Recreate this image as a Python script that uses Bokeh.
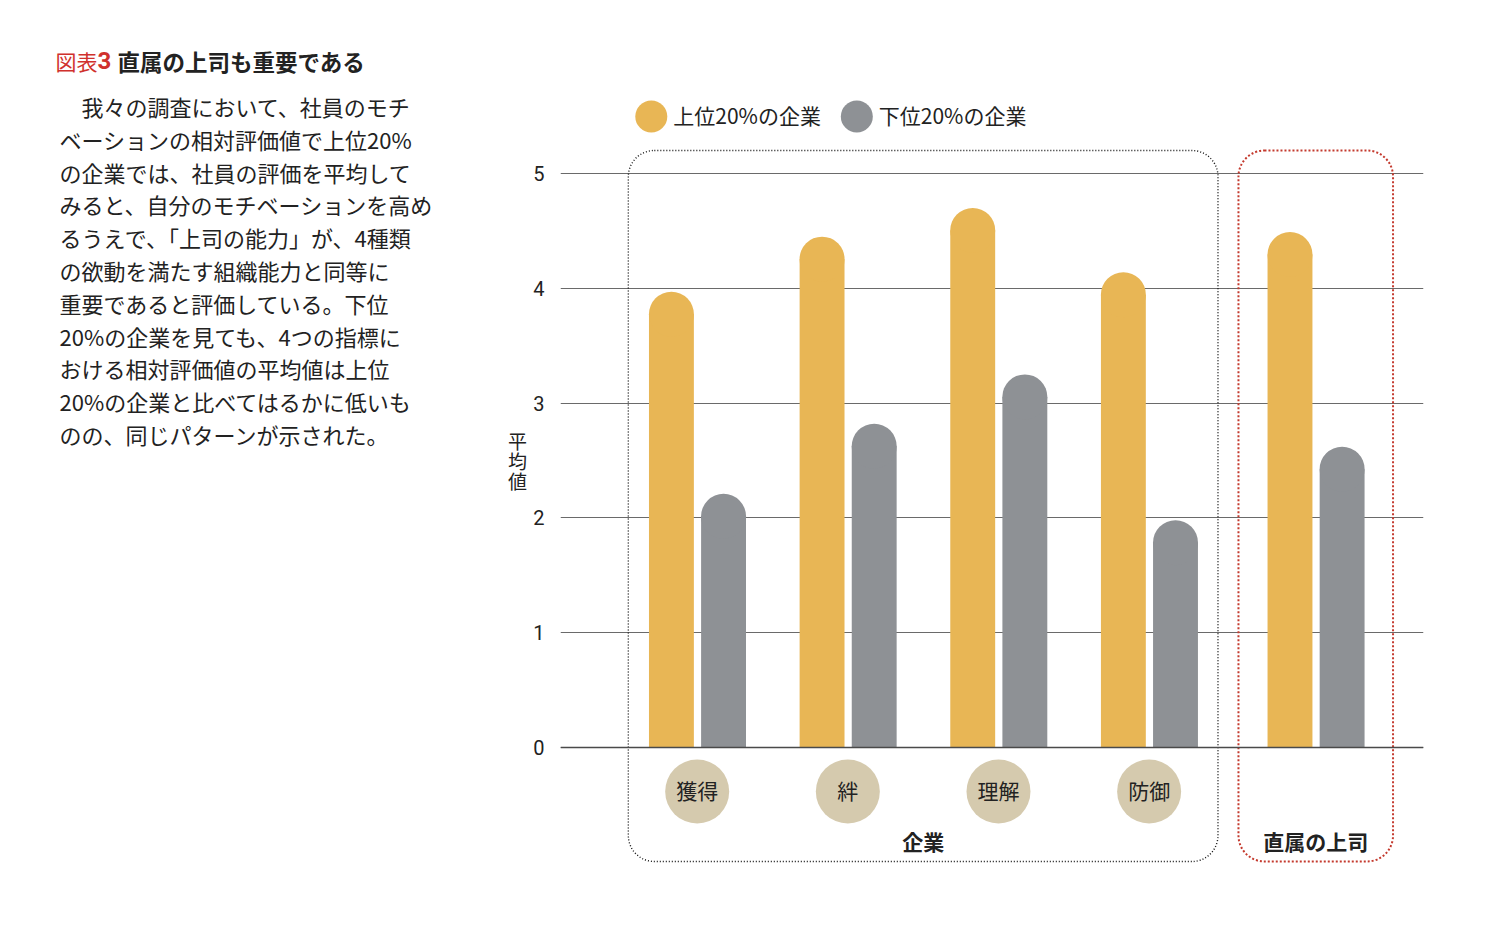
from bokeh.plotting import figure
from bokeh.layouts import row
from bokeh.models import Range1d, FixedTicker, BoxAnnotation, Span, ColumnDataSource
from bokeh.core.properties import value
from bokeh.embed import file_html
from bokeh.resources import INLINE

# data
categories = ["獲得", "絆", "理解", "防御", "直属の上司"]
groups = ["企業", "企業", "企業", "企業", "直属の上司"]
series = ["上位20%の企業", "下位20%の企業"]
top20 = [3.97, 4.45, 4.70, 4.14, 4.49]
bottom20 = [2.21, 2.82, 3.25, 1.98, 2.62]
yticks = [0, 1, 2, 3, 4, 5]
ylabel = "平均値"

title_a = "図表"
title_b = "3"
title_c = "直属の上司も重要である"
para = [
    "　我々の調査において、社員のモチ",
    "ベーションの相対評価値で上位20%",
    "の企業では、社員の評価を平均して",
    "みると、自分のモチベーションを高め",
    "るうえで、「上司の能力」が、4種類",
    "の欲動を満たす組織能力と同等に",
    "重要であると評価している。下位",
    "20%の企業を見ても、4つの指標に",
    "おける相対評価値の平均値は上位",
    "20%の企業と比べてはるかに低いも",
    "のの、同じパターンが示された。",
]

GOLD = "#E8B655"
GRAY = "#8E9195"
BEIGE = "#D5CAAE"
RED = "#C43A2E"
INK = "#222222"
JP = "Noto Sans CJK JP"
H = 908
LEFT_W = 530

# ---- left panel: title, paragraph, y label (pixel-like coordinates)
t = figure(width=LEFT_W, height=H, output_backend="svg", toolbar_location=None,
           x_axis_location=None, y_axis_location=None, min_border=0,
           x_range=Range1d(0, LEFT_W), y_range=Range1d(H, 0))
t.outline_line_color = None
t.xgrid.visible = False
t.ygrid.visible = False

t.text(x=[55], y=[60], text=[title_a], text_font=value(JP), text_font_size="21px",
       text_color="#D0312D", text_baseline="middle")
t.text(x=[97], y=[60], text=[title_b], text_font=value("Roboto"), text_font_size="24px",
       text_font_style="bold", text_color="#D0312D", text_baseline="middle")
t.text(x=[117], y=[60], text=[title_c], text_font=value(JP), text_font_size="22.5px",
       text_font_style="bold", text_color=INK, text_baseline="middle")
t.text(x=[59] * len(para), y=[105.5 + i * 32.8 for i in range(len(para))], text=para,
       text_font=value(JP), text_font_size="22px", text_color=INK, text_baseline="middle")
t.text(x=[517] * len(ylabel), y=[440 + i * 20 for i in range(len(ylabel))], text=list(ylabel),
       text_font=value(JP), text_font_size="19px", text_color=INK,
       text_align="center", text_baseline="middle")

# ---- chart
gap = 0.106
xs = [i + (gap if groups[i] != groups[0] else 0) for i in range(len(categories))]

px_x = 151.0    # pixels per x unit
px_y = 114.8    # pixels per y unit
frame_w = 865

p = figure(width=1488 - LEFT_W, height=H, output_backend="svg", toolbar_location=None,
           x_axis_location=None, min_border_left=558 - LEFT_W, min_border_right=65,
           min_border_top=0, min_border_bottom=0,
           x_range=Range1d(-137 / px_x, (-137 + frame_w) / px_x),
           y_range=Range1d(-(H - 747) / px_y, 747 / px_y))
p.outline_line_color = None

p.yaxis.ticker = FixedTicker(ticks=yticks)
p.yaxis.axis_line_color = None
p.yaxis.major_tick_line_color = None
p.yaxis.minor_tick_line_color = None
p.yaxis.major_label_text_font = "Roboto"
p.yaxis.major_label_text_font_size = "20px"
p.yaxis.major_label_text_color = INK
p.yaxis.major_label_standoff = 10
p.ygrid.ticker = FixedTicker(ticks=yticks)
p.ygrid.grid_line_color = "#6a6a6a"
p.ygrid.grid_line_width = 1.2
p.xgrid.visible = False
p.add_layout(Span(location=0, dimension="width", line_color="#4a4a4a", line_width=1.6))

# group boxes
first = [x for x, g in zip(xs, groups) if g == groups[0]]
last = [x for x, g in zip(xs, groups) if g != groups[0]]
box_top = (747 - 150) / px_y
box_bot = (747 - 861) / px_y
p.add_layout(BoxAnnotation(left=min(first) - 0.457, right=max(first) + 0.457,
                           top=box_top, bottom=box_bot, fill_color=None,
                           line_color="#111111", line_alpha=1, line_width=1.4,
                           line_dash="1 2", border_radius=26, level="underlay"))
p.add_layout(BoxAnnotation(left=min(last) - 0.513, right=max(last) + 0.513,
                           top=box_top, bottom=box_bot, fill_color=None,
                           line_color=RED, line_alpha=1, line_width=2,
                           line_dash="2 2", border_radius=26, level="underlay"))

# bars with round caps
bw = 45
r = bw / 2 / px_y
off_a, off_b = -0.171, 0.175
src = ColumnDataSource(dict(
    xa=[x + off_a for x in xs], xb=[x + off_b for x in xs],
    ta=[v - r for v in top20], tb=[v - r for v in bottom20]))
p.vbar(x="xa", top="ta", bottom=0, width=bw / px_x, source=src, color=GOLD, line_color=None)
p.scatter(x="xa", y="ta", size=bw, source=src, color=GOLD, line_color=None)
p.vbar(x="xb", top="tb", bottom=0, width=bw / px_x, source=src, color=GRAY, line_color=None)
p.scatter(x="xb", y="tb", size=bw, source=src, color=GRAY, line_color=None)

# category badges
cat_y = (747 - 791) / px_y
badge = ColumnDataSource(dict(x=xs[:4], y=[cat_y] * 4, ty=[cat_y + 2 / px_y] * 4,
                              t=categories[:4]))
p.scatter(x="x", y="y", size=64, source=badge, color=BEIGE, line_color=None)
p.text(x="x", y="ty", text="t", source=badge, text_font=value(JP), text_font_size="21px",
       text_color=INK, text_align="center", text_baseline="middle")

grp_y = (747 - 840) / px_y
p.text(x=[sum(first) / len(first), sum(last) / len(last)], y=[grp_y, grp_y],
       text=[groups[0], groups[-1]], text_font=value(JP), text_font_size="21px",
       text_font_style="bold", text_color=INK, text_align="center", text_baseline="middle")

# legend
leg_y = (747 - 116) / px_y
leg_x = [(649 - 695) / px_x, (855 - 695) / px_x]
p.scatter(x=leg_x, y=[leg_y] * 2, size=32, color=[GOLD, GRAY], line_color=None)
p.text(x=[x + 22 / px_x for x in leg_x], y=[leg_y + 2 / px_y] * 2, text=series,
       text_font=value(JP), text_font_size="21px", text_color=INK,
       text_align="left", text_baseline="middle")

layout = row(t, p)
open("out.html", "w").write(file_html(layout, INLINE))
